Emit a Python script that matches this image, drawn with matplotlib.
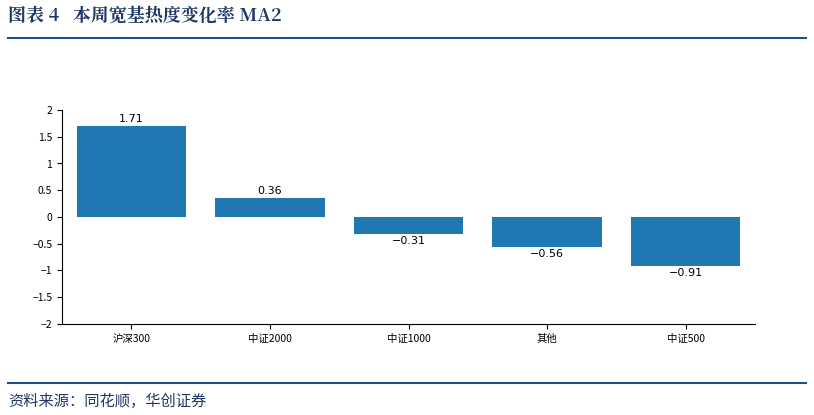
import matplotlib.pyplot as plt
from matplotlib.lines import Line2D

plt.rcParams['font.family'] = ['Noto Sans CJK SC', 'DejaVu Sans']

categories = ['沪深300', '中证2000', '中证1000', '其他', '中证500']
values = [1.71, 0.36, -0.31, -0.56, -0.91]
labels = ['1.71', '0.36', '−0.31', '−0.56', '−0.91']

fig = plt.figure(figsize=(8.14, 4.15), dpi=100)
ax = fig.add_axes([62/814, 1-324/415, 693/814, 214/415])

bars = ax.bar(range(len(categories)), values, width=0.79, color='#1f77b4')
for i, v in enumerate(values):
    if v >= 0:
        ax.text(i, v + 0.03, labels[i], ha='center', va='bottom', fontsize=8, family='DejaVu Sans')
    else:
        ax.text(i, v - 0.04, labels[i], ha='center', va='top', fontsize=8, family='DejaVu Sans')

ax.set_xlim(-0.5, 4.5)
ax.set_ylim(-2, 2)
ax.set_yticks([-2, -1.5, -1, -0.5, 0, 0.5, 1, 1.5, 2])
ax.set_yticklabels(['−2', '−1.5', '−1', '−0.5', '0', '0.5', '1', '1.5', '2'])
ax.set_xticks(range(len(categories)))
ax.set_xticklabels(categories)
ax.tick_params(labelsize=7.5)
for s in ['top', 'right']:
    ax.spines[s].set_visible(False)

fig.text(8/814, 1-16/415, '图表 4   本周宽基热度变化率 MA2', fontsize=13, fontweight='bold',
         color='#1f3864', va='center', family=['Noto Serif CJK SC', 'Noto Sans CJK SC', 'DejaVu Sans'])
fig.add_artist(Line2D([8/814, 806/814], [1-38/415, 1-38/415], color='#1f4e8c', lw=1.5))
fig.add_artist(Line2D([8/814, 806/814], [1-383/415, 1-383/415], color='#1f4e8c', lw=1.5))
fig.text(8/814, 1-401/415, '资料来源：同花顺，华创证券', fontsize=11, style='italic',
         color='#1f3864', va='center')

fig.savefig('out.png', dpi=100)
